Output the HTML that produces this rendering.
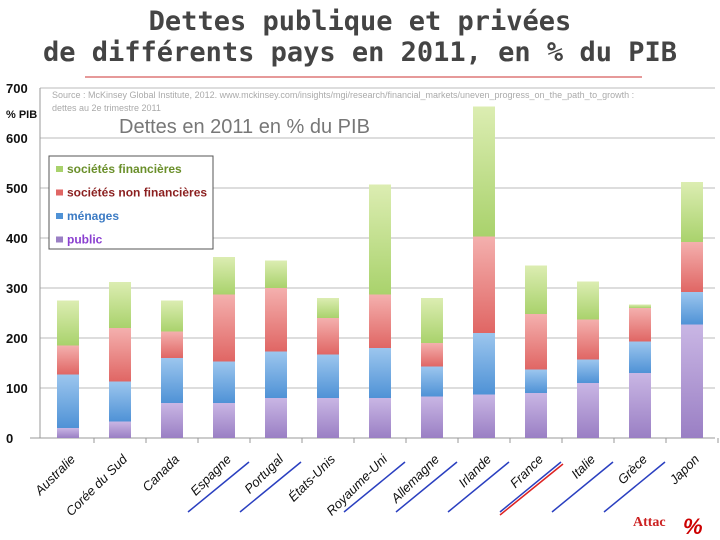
<!DOCTYPE html>
<html><head><meta charset="utf-8">
<style>
body{margin:0;background:#fff;width:720px;height:540px;overflow:hidden;font-family:"Liberation Sans",sans-serif}
.t{position:absolute;left:0;width:720px;text-align:center;font-family:"DejaVu Sans Mono","Liberation Mono",monospace;font-size:27px;font-weight:bold;color:#444;line-height:31px}
</style></head><body>
<div class="t" style="top:6px">Dettes publique et privées<br>de différents pays en 2011, en % du PIB</div>
<svg id="c" width="720" height="540" style="position:absolute;left:0;top:0"></svg>
<script>
const categories=["Australie","Corée du Sud","Canada","Espagne","Portugal","États-Unis","Royaume-Uni","Allemagne","Irlande","France","Italie","Grèce","Japon"];
const publicDebt=[20,33,70,70,80,80,80,83,87,90,110,130,227];
const households=[107,80,90,83,93,87,100,60,123,47,47,63,65];
const nonFinancial=[58,107,53,134,127,73,107,47,193,111,80,67,100];
const financial=[90,92,62,75,55,40,220,90,260,97,76,7,120];
const yTicks=[0,100,200,300,400,500,600,700];
const underlined=[3,4,6,7,8,9,10,11];
const ns="http://www.w3.org/2000/svg",svg=document.getElementById('c');
const y0=438,pxPer=0.5,x0=40,step=52;
const Y=v=>y0-v*pxPer, X=i=>x0+step*(i+0.5)+2;
function el(t,a,p){const e=document.createElementNS(ns,t);for(const k in a)e.setAttribute(k,a[k]);(p||svg).appendChild(e);return e;}
const defs=el('defs',{});
const cols=[["gPub","#c9b6e4","#9a7fc4"],["gHh","#9cc6ee","#4f92d6"],["gNf","#f4b0ae","#e06664"],["gFin","#dcedb2","#a9d26c"]];
cols.forEach(c=>{const g=el('linearGradient',{id:c[0],x1:0,y1:0,x2:0,y2:1},defs);el('stop',{offset:0,'stop-color':c[1]},g);el('stop',{offset:1,'stop-color':c[2]},g);});
const hl=el('line',{x1:85,y1:77,x2:642,y2:77,stroke:'#c33','stroke-width':1});

yTicks.forEach(v=>{
 if(v>0){const g=el('line',{x1:40,x2:715,y1:Y(v),y2:Y(v),stroke:'#bbb','stroke-width':1});
 }
 const t=el('text',{x:6,y:Y(v)+5,'font-size':13,'font-weight':'bold',fill:'#111'});t.textContent=v;
 
});
const ax=el('line',{x1:40,x2:40,y1:Y(700),y2:y0,stroke:'#999'});
const xa=el('line',{x1:30,x2:715,y1:y0,y2:y0,stroke:'#999'});
const yl=el('text',{x:6,y:118,'font-size':11,'font-weight':'bold',fill:'#111'});yl.textContent='% PIB';

const src=el('text',{x:52,y:98,'font-size':9,fill:'#aaa'});src.textContent='Source : McKinsey Global Institute, 2012. www.mckinsey.com/insights/mgi/research/financial_markets/uneven_progress_on_the_path_to_growth :';

const src2=el('text',{x:52,y:111,'font-size':9,fill:'#aaa'});src2.textContent='dettes au 2e trimestre 2011';

const st=el('text',{x:119,y:133,'font-size':20,fill:'#777'});st.textContent='Dettes en 2011 en % du PIB';

const series=[publicDebt,households,nonFinancial,financial];
categories.forEach((c,i)=>{
 let base=0;
 series.forEach((s,k)=>{
  const r=el('rect',{x:X(i)-11,y:Y(base+s[i]),width:22,height:s[i]*pxPer,fill:'url(#'+cols[k][0]+')'});
  
  
  base+=s[i];
 });
 const tk=el('line',{x1:X(i)+26,x2:X(i)+26,y1:y0,y2:y0+5,stroke:'#999'});
 
 const tx=X(i)+8,ty=y0+22;
 const t=el('text',{x:tx,y:ty,'font-size':13,'font-style':'italic',fill:'#111','text-anchor':'end',transform:`rotate(-45 ${tx} ${ty})`});
 t.textContent=c;
});
underlined.forEach(i=>{
 const l=el('line',{x1:X(i)-36,y1:512,x2:X(i)+25,y2:462,stroke:'#2a3fc0','stroke-width':1.5});
 
});
const rl=el('line',{x1:X(9)-36,y1:515,x2:X(9)+27,y2:464,stroke:'#d22','stroke-width':1.5});

const lg=el('rect',{x:49,y:156,width:164,height:93,fill:'#fff',stroke:'#555'});

const ln=[["sociétés financières","#6a8f2a",3],["sociétés non financières","#8b1f1f",2],["ménages","#3c7bc4",1],["public","#8a3fd0",0]];
ln.forEach((l,j)=>{
 const yy=173+j*23.5;
 const s=el('rect',{x:56,y:yy-7,width:7,height:6,fill:cols[l[2]][2]});
 
 const t=el('text',{x:67,y:yy,'font-size':12,'font-weight':'bold',fill:l[1]});t.textContent=l[0];
 
});
const at=el('text',{x:633,y:526,'font-size':14,'font-family':'Liberation Serif','font-weight':'bold',fill:'#c22'});at.textContent='Attac';

const pc=el('text',{x:683,y:534,'font-size':22,'font-weight':'bold','font-style':'italic',fill:'#c00'});pc.textContent='%';

</script>
</body></html>
